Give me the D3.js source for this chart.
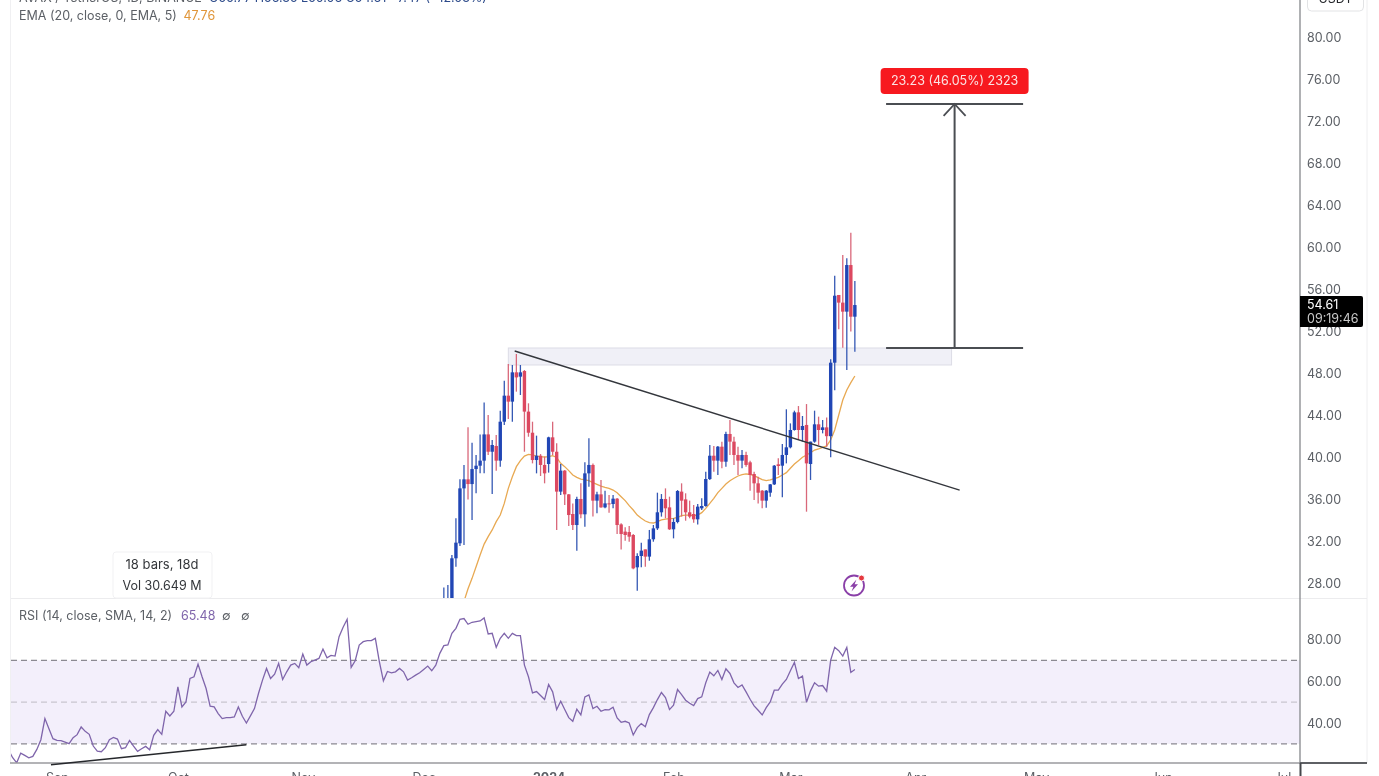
<!DOCTYPE html>
<html><head><meta charset="utf-8">
<script src="https://cdn.jsdelivr.net/npm/d3@7"></script>
<style>html,body{margin:0;padding:0;background:#fff;overflow:hidden}svg{display:block;filter:blur(0.35px)}text{font-family:Inter,"Liberation Sans",sans-serif}</style>
</head><body><svg id="c" width="1379" height="776"></svg>
<script>
// Daily candles, first bar 2023-12-06
const firstBar = "2023-12-06";
const opens = [25.79,25.79,26.59,30.40,31.83,37.06,37.92,37.47,38.90,39.22,39.70,42.20,40.55,41.10,39.70,43.41,45.89,45.32,48.11,47.70,48.24,44.37,42.36,39.76,40.17,39.29,39.38,41.92,40.55,36.75,38.75,36.49,34.62,33.57,36.05,34.59,38.49,39.29,35.89,36.49,35.25,35.63,35.57,36.08,33.63,32.94,32.90,32.62,29.54,30.62,31.25,
30.56,32.21,33.25,34.78,36.05,35.25,33.16,33.86,36.75,36.01,34.78,34.62,34.11,35.16,35.38,37.95,40.17,39.70,41.03,39.60,42.24,41.51,40.24,39.70,40.24,39.54,38.43,37.54,36.84,35.89,36.65,37.44,39.35,39.22,40.24,40.97,42.62,44.30,42.62,43.10,39.38,41.51,43.16,42.62,42.87,42.03,
49.03,55.48,54.75,53.89,58.33,53.41];
const highs = [27.63,27.85,30.71,34.21,37.92,39.29,42.87,41.41,40.24,42.20,45.25,44.05,41.67,42.14,44.46,47.32,48.90,48.81,49.86,48.81,48.33,45.16,43.41,42.08,40.33,40.08,41.98,43.41,41.35,39.38,38.81,36.52,35.63,36.27,37.54,39.54,41.84,39.44,36.75,37.86,36.84,36.43,36.43,36.14,33.73,33.35,33.48,32.71,30.87,31.89,31.25,
33.10,33.57,36.65,36.52,37.06,36.27,34.21,36.90,37.54,36.59,35.89,35.48,35.57,36.11,38.65,41.19,41.10,41.10,41.51,42.46,43.57,41.98,41.03,40.71,40.55,39.70,38.65,38.17,36.90,36.90,37.47,39.29,39.92,41.29,44.59,43.25,44.46,44.90,43.95,45.09,41.51,44.46,43.89,43.57,43.81,49.35,
57.32,55.48,59.29,58.97,61.41,56.81];
const lows = [25.16,25.16,25.79,29.60,31.57,31.67,36.01,34.05,36.59,38.49,38.49,40.24,36.52,38.75,39.13,43.10,43.67,43.41,46.27,45.95,40.55,41.98,39.44,38.49,38.24,37.54,38.56,40.24,33.10,36.43,35.48,33.48,33.10,31.13,34.21,33.41,37.22,34.37,34.68,35.22,35.16,34.75,35.16,32.71,31.25,32.08,31.98,29.35,27.32,29.54,29.60,
30.17,31.98,33.10,34.37,34.21,33.10,32.30,33.73,34.37,33.98,34.21,33.79,33.63,35.00,35.32,37.86,38.65,38.33,38.97,39.13,40.24,39.29,38.33,38.97,39.13,36.84,35.95,35.63,35.16,35.22,36.27,37.38,38.33,36.21,39.44,40.87,42.56,41.67,41.51,34.84,37.86,41.41,41.19,42.30,41.03,40.02,
46.40,52.21,50.46,48.33,51.99,50.08];
const closes = [26.43,26.59,30.40,31.89,37.06,37.92,37.47,38.90,39.22,39.70,42.20,40.55,41.19,39.70,43.41,45.89,45.32,48.11,47.63,48.11,44.37,42.36,39.76,40.17,39.29,38.49,41.92,40.55,36.75,38.75,36.49,34.52,33.57,36.05,34.59,38.49,39.29,35.89,36.49,35.25,35.63,35.57,36.08,33.57,32.71,32.62,32.46,29.44,30.62,31.13,30.56,
32.21,33.25,34.78,36.05,35.16,33.16,33.86,36.81,35.89,34.78,34.37,34.11,35.32,35.38,37.95,40.17,39.70,41.03,39.60,42.24,41.51,40.24,39.70,40.24,39.29,38.33,37.54,36.65,35.89,36.84,37.44,39.22,39.19,40.24,40.97,42.62,44.30,42.62,43.00,39.44,41.51,43.16,42.62,42.87,42.03,49.03,
55.41,54.75,53.89,58.33,53.41,54.52];
// EMA 20 offset 5, begins at bar 4
const emaStart = 4;
const ema = [25.05,26.3,27.5,28.49,29.6,30.71,31.75,32.46,33.1,33.89,34.52,35.63,37.06,38.17,39.13,39.7,40.14,40.3,40.24,40.14,40.08,40.05,40.08,40.17,40.0,39.44,39.13,38.75,38.33,38.11,37.95,37.86,37.79,37.6,37.44,37.28,37.16,37.06,36.9,36.65,36.27,35.89,35.41,35.0,34.52,34.21,33.95,33.79,33.76,33.89,34.05,34.14,34.17,34.21,34.3,34.46,34.52,34.52,34.46,34.52,34.75,35.16,35.63,36.11,36.65,37.06,37.47,37.79,38.02,38.24,38.36,38.43,38.4,38.27,38.08,37.89,37.79,37.86,37.98,38.11,38.33,38.56,38.97,39.38,39.7,40.02,40.24,40.46,40.71,40.81,40.97,41.1,41.67,42.62,44.05,45.47,46.43,47.13,47.76];
// RSI 14, daily from 2023-08-20
const rsiStart = "2023-08-20";
const rsi = [26.87,23.35,20.94,25.59,24.47,23.35,23.99,27.35,32.0,42.1,37.29,32.48,31.68,31.52,30.88,30.08,32.96,34.41,38.09,36.01,34.57,28.96,26.55,26.23,28.16,32.0,33.12,32.32,27.67,28.16,31.68,28.96,26.39,27.67,28.8,27.19,34.08,36.81,34.57,45.62,43.38,45.62,57.32,47.71,50.11,61.33,62.13,68.22,62.13,56.52,48.03,47.71,44.5,42.1,42.58,42.58,42.9,47.71,43.22,40.01,43.38,46.91,54.12,60.53,66.14,61.33,63.41,68.54,60.85,64.53,67.74,68.54,66.46,73.03,67.74,69.34,70.14,70.94,75.43,71.27,72.39,72.07,81.36,85.85,89.69,66.62,69.82,77.36,78.96,79.44,79.44,80.56,69.34,60.21,64.69,64.05,64.53,66.14,64.53,60.53,61.65,62.93,64.05,65.66,67.26,65.02,67.74,73.35,77.03,77.36,
82.96,85.37,89.69,90.02,87.29,88.25,88.57,88.89,90.34,82.64,82.96,76.23,80.56,82.96,80.56,82.96,81.84,81.84,67.74,62.13,54.44,55.08,53.16,51.23,58.44,54.92,46.43,50.43,46.43,42.58,40.82,46.59,43.86,52.51,53.48,46.91,48.03,45.62,46.43,46.27,47.55,42.42,40.34,40.82,40.01,34.25,37.77,39.69,38.25,44.02,47.39,51.23,54.6,52.19,46.43,48.51,56.04,53.64,50.91,49.47,48.35,51.71,52.51,59.25,64.37,62.61,65.17,60.85,65.98,63.73,59.25,57.0,58.28,54.92,51.39,48.19,46.1,43.86,47.39,50.11,55.72,55.72,58.6,60.85,65.01,69.02,61.33,62.45,49.95,55.4,59.25,57.64,57.96,55.24,70.14,76.23,74.63,72.07,76.23,64.21,65.65];
const priceTicks = [80,76,72,68,64,60,56,52,48,44,40,36,32,28];
const rsiTicks = [80,60,40];
const rsiLevels = [70,50,30];
const monthTicks = ["2023-09-01","2023-10-01","2023-11-01","2023-12-01","2024-01-01","2024-02-01","2024-03-01","2024-04-01","2024-05-01","2024-06-01","2024-07-01"];
const monthLabels = ["Sep","Oct","Nov","Dec","2024","Feb","Mar","Apr","May","Jun","Jul"];
const zone = {from:"2023-12-22", to:"2024-04-10", top:50.43, bottom:48.81};
const trend = [["2023-12-23T14:00:00Z",50.14],["2024-04-12T00:00:00Z",36.90]];
const rsiSupport = [["2023-08-30T12:00:00Z",20.0],["2023-10-18T00:00:00Z",29.6]];
const measureFrom = "2024-03-24T18:00:00Z", measureTo = "2024-04-27T18:00:00Z", measureMid = "2024-04-10T18:00:00Z";
const measureLow = 50.44, measureHigh = 73.67;
const measureLabel = "23.23 (46.05%) 2323";
const lastPrice = 54.61, countdown = "09:19:46";
const headerText = "AVAX / TetherUS, 1D, BINANCE";
const headerValues = "O55.77  H56.35  L50.06  C54.61  −7.47 (−12.03%)";

const C = {blue:"#2146b5", blueW:"#3558b4", red:"#dc4860", redW:"#d9687a", ema:"#e8a952", rsi:"#7f65ab", ink:"#5c6066"};
const L = {left:11, axis:1300, right:1367, paneBottom:598, rsiBottom:763};

const svg = d3.select("#c");
const pd = d => d3.isoParse(d);
const x = d3.scaleUtc().domain([pd("2023-09-01"), pd("2024-07-01")]).range([57,1282]);
const py = d3.scaleLinear().domain([80,28]).range([37.5,583.5]);
const yr = d3.scaleLinear().domain([80,40]).range([639.5,723]);
const dayAt = (start,i) => d3.utcDay.offset(pd(start), i);

const defs = svg.append("defs");
defs.append("clipPath").attr("id","pm").append("rect").attr("x",L.left).attr("y",0).attr("width",L.axis-L.left).attr("height",L.paneBottom);
defs.append("clipPath").attr("id","pr").append("rect").attr("x",L.left).attr("y",L.paneBottom).attr("width",L.axis-L.left).attr("height",L.rsiBottom-L.paneBottom);

// frame
const line = (x1,y1,x2,y2,col,w) => svg.append("line").attr("x1",x1).attr("y1",y1).attr("x2",x2).attr("y2",y2).attr("stroke",col).attr("stroke-width",w||1);
line(L.left-0.5,0,L.left-0.5,L.rsiBottom,"#f0f0f2");
line(L.right,0,L.right,L.rsiBottom,"#eeeef0");
line(L.left,L.paneBottom+0.5,L.right,L.paneBottom+0.5,"#ececee");

// zone
const main = svg.append("g").attr("clip-path","url(#pm)");
main.append("rect").attr("x",x(pd(zone.from))).attr("y",py(zone.top)).attr("width",x(pd(zone.to))-x(pd(zone.from))).attr("height",py(zone.bottom)-py(zone.top))
  .attr("fill","#f0f0f7").attr("stroke","#dcdce6");

// EMA
const lineGen = d3.line();
main.append("path").attr("fill","none").attr("stroke",C.ema).attr("stroke-width",1.3)
  .attr("d",lineGen(ema.map((v,i)=>[x(dayAt(firstBar,emaStart+i)),py(v)])));

// candles
const bars = opens.map((o,i)=>({d:dayAt(firstBar,i),o,h:highs[i],l:lows[i],c:closes[i],up:closes[i]>=o}));
const g = main.selectAll("g.b").data(bars).join("g").attr("class","b");
g.append("line").attr("x1",d=>x(d.d)).attr("x2",d=>x(d.d)).attr("y1",d=>py(d.h)).attr("y2",d=>py(d.l))
  .attr("stroke",d=>d.up?C.blueW:C.redW).attr("stroke-width",1.3);
g.append("rect").attr("x",d=>x(d.d)-1.7).attr("width",3.4).attr("y",d=>py(Math.max(d.o,d.c)))
  .attr("height",d=>Math.max(1,Math.abs(py(d.o)-py(d.c)))).attr("fill",d=>d.up?C.blue:C.red);

// trend
main.append("path").attr("fill","none").attr("stroke","#33363c").attr("stroke-width",1.4)
  .attr("d",lineGen(trend.map(t=>[x(pd(t[0])),py(t[1])])));

// measure
const mx1=x(pd(measureFrom)), mx2=x(pd(measureTo)), mm=x(pd(measureMid));
[measureLow,measureHigh].forEach(v=>main.append("line").attr("x1",mx1).attr("x2",mx2).attr("y1",py(v)).attr("y2",py(v)).attr("stroke","#4a4d52").attr("stroke-width",2));
main.append("line").attr("x1",mm).attr("x2",mm).attr("y1",py(measureLow)).attr("y2",py(measureHigh)).attr("stroke","#4a4d52").attr("stroke-width",2);
main.append("path").attr("fill","none").attr("stroke","#4a4d52").attr("stroke-width",1.8)
  .attr("d",`M${mm-11},${py(measureHigh)+12}L${mm},${py(measureHigh)}L${mm+11},${py(measureHigh)+12}`);
main.append("rect").attr("x",mm-74).attr("y",py(measureHigh)-36).attr("width",148).attr("height",26).attr("rx",4).attr("fill","#f7191f");
main.append("text").attr("x",mm).attr("y",py(measureHigh)-19).attr("text-anchor","middle").attr("fill","#fbe3e3").attr("font-size",12.5).text(measureLabel);

// bars box
const bb = svg.append("g");
bb.append("rect").attr("x",113).attr("y",552).attr("width",99).attr("height",46).attr("rx",3).attr("fill","#fff").attr("stroke","#f1f1f3");
bb.append("text").attr("x",162).attr("y",569).attr("text-anchor","middle").attr("font-size",13).attr("fill","#33363a").text("18 bars, 18d");
bb.append("text").attr("x",162).attr("y",590).attr("text-anchor","middle").attr("font-size",12.5).attr("fill","#33363a").text("Vol 30.649 M");

// lightning
const ic = svg.append("g").attr("transform","translate(854,585.5)");
ic.append("circle").attr("r",10).attr("fill","#fff").attr("stroke","#8a3fa8").attr("stroke-width",1.8);
ic.append("path").attr("d","M2.5,-6L-4,1.2H-0.6L-2.5,6L4,-1.2H0.6Z").attr("fill","#8a3fa8");
ic.append("circle").attr("cx",7.5).attr("cy",-7.5).attr("r",3).attr("fill","#e5393f").attr("stroke","#fff");

// RSI pane
const rp = svg.append("g").attr("clip-path","url(#pr)");
rp.append("rect").attr("x",L.left).attr("width",L.axis-L.left).attr("y",yr(70)).attr("height",yr(30)-yr(70)).attr("fill","#f3effb");
rp.selectAll("line.lv").data(rsiLevels).join("line").attr("class","lv").attr("x1",L.left).attr("x2",L.axis)
  .attr("y1",d=>yr(d)).attr("y2",d=>yr(d)).attr("stroke",d=>d===50?"#c9c6cf":"#8c8a92").attr("stroke-width",1.2).attr("stroke-dasharray","6 4");
rp.append("path").attr("fill","none").attr("stroke",C.rsi).attr("stroke-width",1.3)
  .attr("d",lineGen(rsi.map((v,i)=>[x(dayAt(rsiStart,i)),yr(v)])));
line(L.left-1,L.rsiBottom,L.axis,L.rsiBottom,"#9a9a9e",1.6);
svg.append("path").attr("fill","none").attr("stroke","#26282c").attr("stroke-width",1.5)
  .attr("d",lineGen(rsiSupport.map(t=>[x(pd(t[0])),yr(t[1])])));

// axes
line(L.axis,0,L.axis,L.rsiBottom,"#85878b",1.3);
line(L.axis,L.rsiBottom,L.right,L.rsiBottom,"#5e6064",2);
line(L.axis+0.5,L.rsiBottom,L.axis+0.5,776,"#45474b",2);
const styleAxis = a => {a.select(".domain").remove();a.selectAll("line").remove();a.selectAll("text").attr("fill",C.ink).attr("font-size",12.5).attr("font-family","Inter,'Liberation Sans',sans-serif");};
svg.append("g").attr("transform",`translate(${L.axis+7},0)`).call(d3.axisRight(py).tickValues(priceTicks).tickSize(0).tickPadding(0).tickFormat(d3.format(".2f"))).call(styleAxis);
svg.append("g").attr("transform",`translate(${L.axis+7},0)`).call(d3.axisRight(yr).tickValues(rsiTicks).tickSize(0).tickPadding(0).tickFormat(d3.format(".2f"))).call(styleAxis);
const xa = svg.append("g").attr("transform",`translate(0,${L.rsiBottom})`)
  .call(d3.axisBottom(x).tickValues(monthTicks.map(pd)).tickSize(0).tickPadding(10).tickFormat((d,i)=>monthLabels[i])).call(styleAxis);
xa.selectAll("text").filter((d,i)=>monthLabels[i]==="2024").attr("font-weight",700);

// legends
const leg = (lx,ly,t,col,w) => svg.append("text").attr("x",lx).attr("y",ly).attr("font-size",12.5).attr("fill",col).attr("font-weight",w||400).text(t);
leg(19,2,headerText,C.ink);
leg(209,2,headerValues,"#2c4a8a");
leg(19,19.5,"EMA (20, close, 0, EMA, 5)",C.ink);
leg(183.5,19.5,ema[ema.length-1].toFixed(2),"#e0963a");
leg(19,620,"RSI (14, close, SMA, 14, 2)",C.ink);
leg(181,620,"65.48",C.rsi);
leg(222,620,"∅",C.ink);
leg(241,620,"∅",C.ink);

// USDT tag
svg.append("rect").attr("x",1307.5).attr("y",-12).attr("width",56).attr("height",23).attr("rx",4).attr("fill","#fff").attr("stroke","#e2e3e5");
svg.append("text").attr("x",1335.5).attr("y",3).attr("text-anchor","middle").attr("font-size",12.5).attr("fill","#26282c").text("USDT");

// price tag
const tagY = py(lastPrice);
svg.append("path").attr("fill","#000").attr("d",`M${L.axis},${tagY-8}H1361a2,2 0 0 1 2,2V${tagY+21}a2,2 0 0 1 -2,2H${L.axis}Z`);
svg.append("text").attr("x",L.axis+7).attr("y",tagY+5).attr("font-size",12.5).attr("fill","#fff").text(lastPrice.toFixed(2));
svg.append("text").attr("x",L.axis+7).attr("y",tagY+18.5).attr("font-size",12.5).attr("fill","#c8c8c8").text(countdown);
</script></body></html>
